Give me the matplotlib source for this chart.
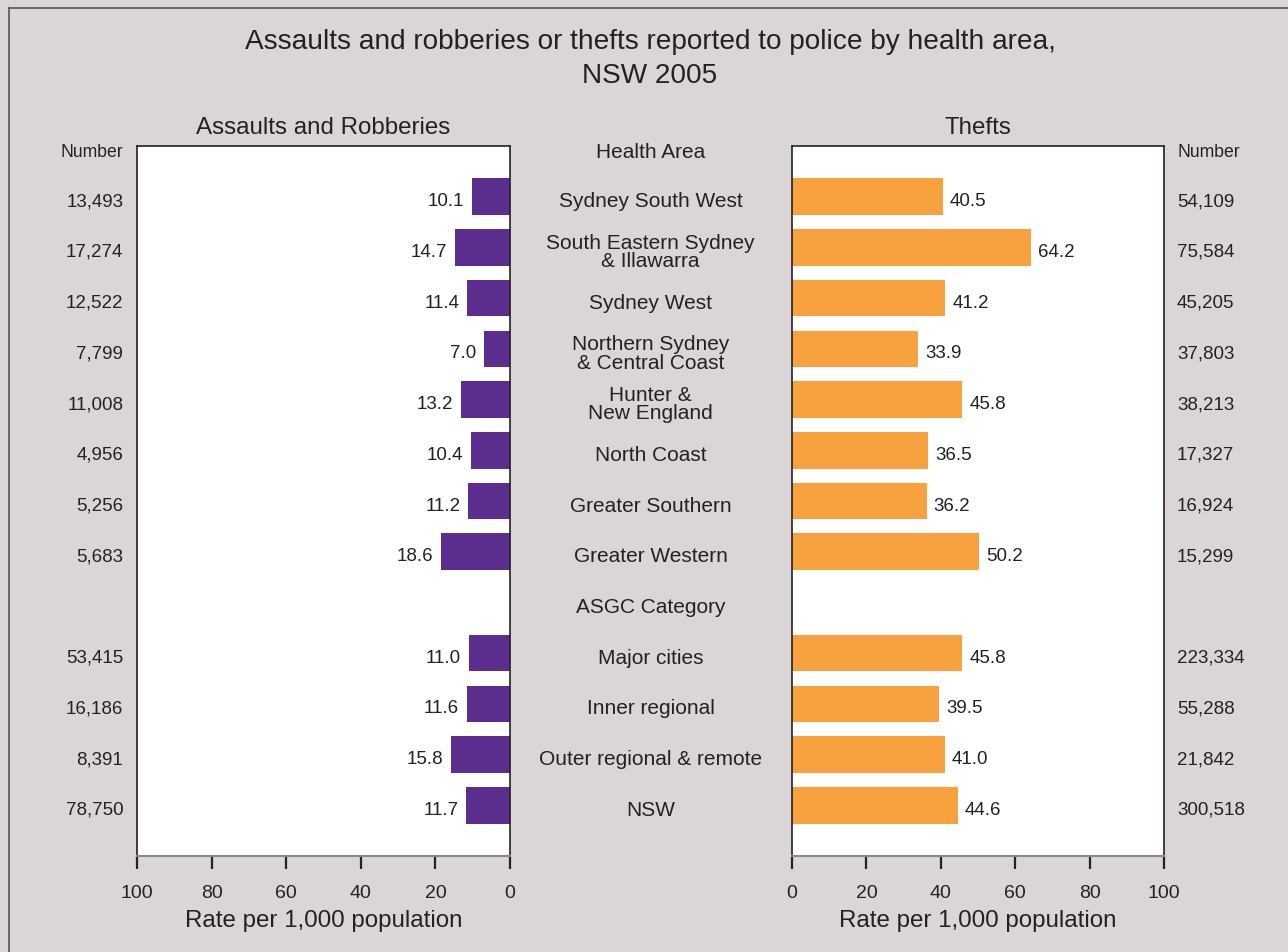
import numpy as np
import matplotlib.pyplot as plt
from matplotlib.lines import Line2D

plt.rcParams['font.family'] = ['Liberation Sans', 'DejaVu Sans']

areas = ['Sydney South West', 'South Eastern Sydney\n& Illawarra', 'Sydney West',
         'Northern Sydney\n& Central Coast', 'Hunter &\nNew England', 'North Coast',
         'Greater Southern', 'Greater Western', 'ASGC Category', 'Major cities',
         'Inner regional', 'Outer regional & remote', 'NSW']
assault_rate = [10.1, 14.7, 11.4, 7.0, 13.2, 10.4, 11.2, 18.6, 0, 11.0, 11.6, 15.8, 11.7]
assault_num = ['13,493', '17,274', '12,522', '7,799', '11,008', '4,956', '5,256', '5,683',
               '', '53,415', '16,186', '8,391', '78,750']
theft_rate = [40.5, 64.2, 41.2, 33.9, 45.8, 36.5, 36.2, 50.2, 0, 45.8, 39.5, 41.0, 44.6]
theft_num = ['54,109', '75,584', '45,205', '37,803', '38,213', '17,327', '16,924', '15,299',
             '', '223,334', '55,288', '21,842', '300,518']
ticks = [0, 20, 40, 60, 80, 100]

W, H = 1288, 953
bg = '#dbd5d8'
purple = '#5b2d8e'
orange = '#f7a13f'
txt = '#222222'
dy = 0.08  # text sits a touch below the bar centre

fig = plt.figure(figsize=(W / 100, H / 100), dpi=100, facecolor=bg)


def px_axes(x0, y0, x1, y1):
    return fig.add_axes([x0 / W, 1 - y1 / H, (x1 - x0) / W, (y1 - y0) / H])


axL = px_axes(137, 147, 510, 857)
axR = px_axes(792, 147, 1164, 857)
y = np.arange(len(areas))

axL.barh(y, assault_rate, height=0.72, color=purple)
axR.barh(y, theft_rate, height=0.72, color=orange)

for ax in (axL, axR):
    ax.set_facecolor('white')
    ax.set_ylim(13, -1)
    ax.set_yticks([])
    ax.set_xticks(ticks)
    ax.set_xticklabels([str(t) for t in ticks], fontsize=14, color=txt)
    ax.tick_params(axis='x', direction='out', length=9, width=1.6, color='#222222', pad=11)
    for s in ('top', 'left', 'right'):
        ax.spines[s].set_color('#222222')
        ax.spines[s].set_linewidth(1.2)
    ax.spines['bottom'].set_color('#888888')
    ax.spines['bottom'].set_linewidth(1.5)
    ax.set_xlabel('Rate per 1,000 population', fontsize=17.4, color=txt, labelpad=6)

axL.set_xlim(100, 0)
axR.set_xlim(0, 100)
axL.set_title('Assaults and Robberies', fontsize=17.4, color=txt, pad=9)
axR.set_title('Thefts', fontsize=17.4, color=txt, pad=9)

for i in range(len(areas)):
    if assault_num[i]:
        axL.text(assault_rate[i] + 2.1, i + dy, f'{assault_rate[i]:.1f}', ha='right',
                 va='center', fontsize=13.5, color=txt)
        axR.text(theft_rate[i] + 1.9, i + dy, f'{theft_rate[i]:.1f}', ha='left',
                 va='center', fontsize=13.5, color=txt)
        axL.text(-0.037, i + dy, assault_num[i], transform=axL.get_yaxis_transform(),
                 ha='right', va='center', fontsize=13.5, color=txt)
        axR.text(1.035, i + dy, theft_num[i], transform=axR.get_yaxis_transform(),
                 ha='left', va='center', fontsize=13.5, color=txt)
    # health area names in the gap between the panels
    axL.text(1.377, i + dy, areas[i], transform=axL.get_yaxis_transform(), ha='center',
             va='center', fontsize=15, color=txt, linespacing=0.95)

axL.text(1.377, -0.9, 'Health Area', transform=axL.get_yaxis_transform(), ha='center',
         va='center', fontsize=15, color=txt)
axL.text(-0.12, -0.9, 'Number', transform=axL.get_yaxis_transform(), ha='center',
         va='center', fontsize=12.7, color=txt)
axR.text(1.12, -0.9, 'Number', transform=axR.get_yaxis_transform(), ha='center',
         va='center', fontsize=12.7, color=txt)

fig.text(650 / W, 1 - 59 / H,
         'Assaults and robberies or thefts reported to police by health area,\nNSW 2005',
         ha='center', va='center', fontsize=20.2, color=txt, linespacing=1.4)

# outer frame lines
fig.add_artist(Line2D([8.5 / W, 8.5 / W], [0, 1 - 8.5 / H], transform=fig.transFigure,
                      color='#555555', lw=1.2))
fig.add_artist(Line2D([8.5 / W, 1], [1 - 8.5 / H, 1 - 8.5 / H], transform=fig.transFigure,
                      color='#555555', lw=1.2))

fig.savefig('out.png', dpi=100, facecolor=bg)
